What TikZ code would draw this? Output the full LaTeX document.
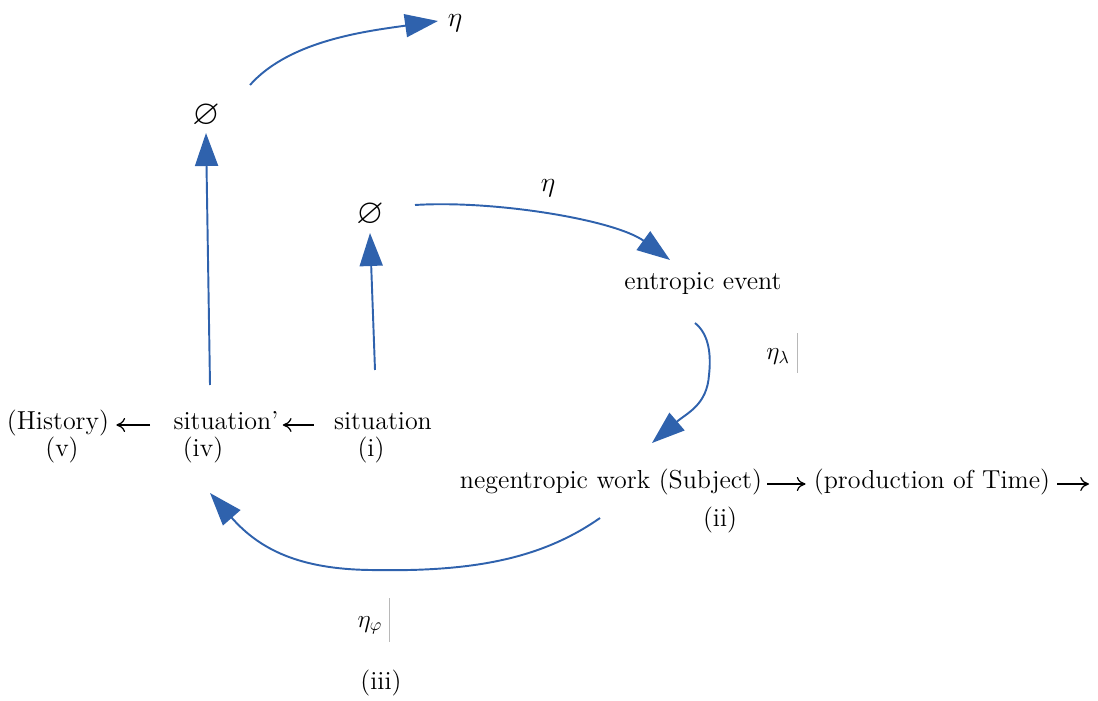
\documentclass[tikz,border=0pt]{standalone}
\usepackage{fontspec}
\usepackage{amssymb}
\usepackage{graphicx}
\usepackage{xcolor}
\usepackage{tikz}
\usetikzlibrary{arrows.meta}
\definecolor{flowblue}{HTML}{2F62AD}
\definecolor{barline}{HTML}{B8B8B8}

\begin{document}
\begin{tikzpicture}[
  x=0.02cm, y=0.02cm,
  txt/.style={inner sep=0pt, font=\fontsize{14.8}{18}\selectfont},
  word/.style={txt, text height=1.55ex, text depth=0.45ex},
  flow/.style={draw=flowblue, line width=1.1pt, -{Triangle[length=0.66cm, width=0.46cm]}},
  textarrow/.style={draw, line width=0.7pt, -{To[length=5pt, width=8pt]}}
]
\useasboundingbox (0,0) rectangle (1098,700);

% voids and eta labels
\node[txt] (etatop) at (455,677) {\scalebox{1.1}{$\eta$}};
\node[txt] (voidtop) at (206,584) {\scalebox{1.35}{$\varnothing$}};
\node[txt] (voidmid) at (370,485) {\scalebox{1.35}{$\varnothing$}};
\node[txt] (etamid) at (548,512) {\scalebox{1.1}{$\eta$}};
\node[word] (entropic) at (703,415) {entropic event};
\node[txt] (etalam) at (782,347) {$\eta_{\lambda}$\hspace{4pt}{\color{barline}\rule[-0.26cm]{0.6pt}{0.8cm}}};

% situation row
\node[word] (history) at (58,275) {(History)};
\node[word] (sitprime) at (226,275) {situation'};
\node[word] (sit) at (383,275) {situation};
\node[word] (v) at (62,248) {(v)};
\node[word] (iv) at (203,248) {(iv)};
\node[word] (i) at (371,248) {(i)};

% subject row
\node[word] (neg) at (611,216) {negentropic work (Subject)};
\node[word] (prod) at (932,216) {(production of Time)};
\coordinate (tend) at (1089,216);
\node[word] (ii) at (720,178) {(ii)};

% bottom labels
\node[txt] (etaphi) at (374,80) {$\eta_{\varphi}$\hspace{4pt}{\color{barline}\rule[-0.3cm]{0.6pt}{0.88cm}}};
\node[word] (iii) at (381,15) {(iii)};

% text arrows
\draw[textarrow, shorten <=0.46cm, shorten >=0.14cm] (sitprime.west) -- (history.east);
\draw[textarrow, shorten <=0.4cm, shorten >=0.08cm] (sit.west) -- (sitprime.east);
\draw[textarrow, shorten <=0.1cm, shorten >=0.16cm] (neg.east) -- (prod.west);
\draw[textarrow, shorten <=0.14cm] (prod.east) -- (tend);

% blue flows
\draw[flow] ([shift={(44,31)}]voidtop.center) .. controls +(40,45) and +(-70,-10) .. ([shift={(-17,2)}]etatop.center);
\draw[flow] ([shift={(-16,40)}]sitprime.center) -- ([shift={(0,-17)}]voidtop.center);
\draw[flow] ([shift={(-8,55)}]sit.center) -- ([shift={(0,-18)}]voidmid.center);
\draw[flow] ([shift={(45,10)}]voidmid.center) .. controls +(80,5) and +(-55,40) .. ([shift={(-33,25)}]entropic.center);
\draw[flow] ([shift={(-8,-38)}]entropic.center) .. controls +(15,-12) and +(2,18) .. ++(14,-52)
  .. controls +(-2,-30) and +(35,30) .. ([shift={(41,41)}]neg.center);
\draw[flow] ([shift={(-11,-34)}]neg.center) .. controls +(-60,-42) and +(100,-2) .. ++(-230,-52)
  .. controls +(-70,1) and +(50,-57) .. ([shift={(7,-41)}]iv.center);
\end{tikzpicture}
\end{document}
